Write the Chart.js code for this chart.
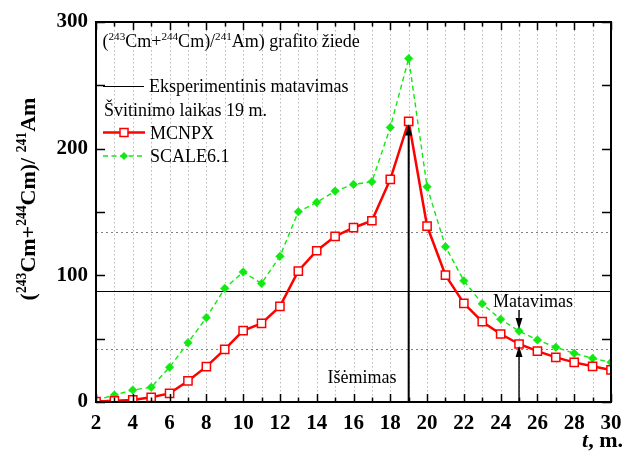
<!DOCTYPE html>
<html><head><meta charset="utf-8">
<script src="https://cdn.jsdelivr.net/npm/chart.js@4"></script>
<style>html,body{margin:0;padding:0;background:#fff}#c{display:block}</style>
</head><body>
<canvas id="c" width="625" height="453"></canvas>
<script>
// ---- data ----
const months = [2,3,4,5,6,7,8,9,10,11,12,13,14,15,16,17,18,19,20,21,22,23,24,25,26,27,28,29,30];
const mcnpx = [0.3,1,1.6,3.7,6.8,16.6,27.9,41.6,56.3,62.1,75.5,103.4,119.4,130.8,137.6,143.1,175.8,221.5,138.9,100.2,77.9,63.4,53.7,45.8,40.2,35.2,31.3,28.2,25.3];
const scale61 = [1.5,5.5,9.5,11.6,27.4,46.8,66.6,89.7,102.6,93.6,115,150.2,157.6,166.5,171.8,173.9,216.8,271.2,169.9,122.6,95.7,77.6,65.3,56,49,43.2,38.4,34.5,31.3];
const xTickLabels = [2,4,6,8,10,12,14,16,18,20,22,24,26,28,30];
const yTickLabels = [0,100,200,300];
const expValue = 88;
const expLow = 42;
const expHigh = 134;
const removalMonth = 19;
const measureMonth = 25;

const SERIF = "'Liberation Serif', 'Times New Roman', serif";
const GREEN = '#12e812';
const RED = '#ff0000';

function richWidth(ctx, parts, size, weight) {
  let w = 0;
  for (const p of parts) {
    const s = p.sup ? size * 0.62 : size;
    ctx.font = (p.it ? 'italic ' : '') + weight + ' ' + s + 'px ' + SERIF;
    w += ctx.measureText(p.t).width;
  }
  return w;
}
function drawRich(ctx, x, y, parts, size, weight) {
  ctx.textBaseline = 'alphabetic';
  ctx.textAlign = 'left';
  for (const p of parts) {
    const s = p.sup ? size * 0.62 : size;
    ctx.font = (p.it ? 'italic ' : '') + weight + ' ' + s + 'px ' + SERIF;
    ctx.fillText(p.t, x, p.sup ? y - size * 0.4 : y);
    x += ctx.measureText(p.t).width;
  }
}
function arrowHead(ctx, x, yTip, dir) { // dir -1 = pointing up, +1 = pointing down
  ctx.beginPath();
  ctx.moveTo(x, yTip);
  ctx.lineTo(x - 3.5, yTip - dir * 11);
  ctx.lineTo(x + 3.5, yTip - dir * 11);
  ctx.closePath();
  ctx.fill();
}

const decor = {
  id: 'decor',
  beforeDatasetsDraw(chart) {
    const {ctx, chartArea: a, scales: {x, y}} = chart;
    ctx.save();
    ctx.strokeStyle = '#b8b8b8';
    ctx.lineWidth = 1;
    ctx.setLineDash([1.5, 2.5]);
    for (let m = 3; m < 30; m++) {
      const px = Math.round(x.getPixelForValue(m)) + 0.5;
      ctx.beginPath(); ctx.moveTo(px, a.top); ctx.lineTo(px, a.bottom); ctx.stroke();
    }
    ctx.strokeStyle = '#808080';
    ctx.setLineDash([2, 3]);
    for (const v of [expLow, expHigh]) {
      const py = Math.round(y.getPixelForValue(v)) + 0.5;
      ctx.beginPath(); ctx.moveTo(a.left, py); ctx.lineTo(a.right, py); ctx.stroke();
    }
    ctx.setLineDash([]);
    ctx.strokeStyle = '#000';
    ctx.lineWidth = 1.2;
    const pe = Math.round(y.getPixelForValue(expValue)) + 0.5;
    ctx.beginPath(); ctx.moveTo(a.left, pe); ctx.lineTo(a.right, pe); ctx.stroke();
    ctx.restore();
  },
  afterDatasetsDraw(chart) {
    const {ctx, chartArea: a, scales: {x, y}} = chart;
    ctx.save();
    ctx.fillStyle = '#000';
    ctx.strokeStyle = '#000';
    const xr = x.getPixelForValue(removalMonth);
    const iR = months.indexOf(removalMonth);
    const tipR = y.getPixelForValue(mcnpx[iR]) + 3;
    ctx.lineWidth = 2;
    ctx.beginPath(); ctx.moveTo(xr, a.bottom); ctx.lineTo(xr, tipR + 8); ctx.stroke();
    arrowHead(ctx, xr, tipR, -1);
    const xm = x.getPixelForValue(measureMonth);
    const iM = months.indexOf(measureMonth);
    ctx.lineWidth = 1.4;
    const tipLow = y.getPixelForValue(mcnpx[iM]) + 2;
    ctx.beginPath(); ctx.moveTo(xm, a.bottom); ctx.lineTo(xm, tipLow + 8); ctx.stroke();
    arrowHead(ctx, xm, tipLow, -1);
    const tipHigh = y.getPixelForValue(scale61[iM]) - 2;
    ctx.beginPath(); ctx.moveTo(xm, 310); ctx.lineTo(xm, tipHigh - 8); ctx.stroke();
    arrowHead(ctx, xm, tipHigh, 1);
    ctx.restore();
  },
  afterDraw(chart) {
    const {ctx, chartArea: a, scales: {x, y}} = chart;
    ctx.save();
    ctx.strokeStyle = '#000';
    ctx.lineWidth = 1.5;
    for (let v = 0; v <= 300; v += 50) {
      const py = Math.round(y.getPixelForValue(v)) + 0.5;
      ctx.beginPath();
      ctx.moveTo(a.left, py); ctx.lineTo(a.left + 9, py);
      ctx.moveTo(a.right, py); ctx.lineTo(a.right - 9, py);
      ctx.stroke();
    }
    for (let m = 2; m <= 30; m++) {
      const px = Math.round(x.getPixelForValue(m)) + 0.5;
      const len = (m % 2 === 0) ? 8 : 4.5;
      ctx.beginPath();
      ctx.moveTo(px, a.bottom); ctx.lineTo(px, a.bottom - len);
      ctx.moveTo(px, a.top); ctx.lineTo(px, a.top + len);
      ctx.stroke();
    }
    ctx.lineWidth = 2;
    ctx.strokeRect(a.left, a.top, a.right - a.left, a.bottom - a.top);

    ctx.fillStyle = '#000';
    drawRich(ctx, 102.5, 47, [
      {t: '('}, {t: '243', sup: true}, {t: 'Cm+'}, {t: '244', sup: true},
      {t: 'Cm)/'}, {t: '241', sup: true}, {t: 'Am) grafito žiede'}
    ], 18, 'normal');

    ctx.lineWidth = 1.2;
    ctx.beginPath(); ctx.moveTo(103, 86.5); ctx.lineTo(144, 86.5); ctx.stroke();
    drawRich(ctx, 149, 92, [{t: 'Eksperimentinis matavimas'}], 18, 'normal');
    drawRich(ctx, 104, 115.5, [{t: 'Švitinimo laikas 19 m.'}], 18, 'normal');
    ctx.strokeStyle = RED; ctx.lineWidth = 2.5;
    ctx.beginPath(); ctx.moveTo(103, 132.5); ctx.lineTo(145, 132.5); ctx.stroke();
    ctx.fillStyle = '#fff'; ctx.lineWidth = 1.5;
    ctx.fillRect(120, 128.5, 8, 8); ctx.strokeRect(120, 128.5, 8, 8);
    ctx.fillStyle = '#000';
    drawRich(ctx, 150, 139, [{t: 'MCNPX'}], 18, 'normal');
    ctx.strokeStyle = GREEN; ctx.lineWidth = 1.4; ctx.setLineDash([5, 3.5]);
    ctx.beginPath(); ctx.moveTo(103, 156); ctx.lineTo(145, 156); ctx.stroke();
    ctx.setLineDash([]);
    ctx.fillStyle = GREEN;
    ctx.beginPath(); ctx.moveTo(124, 152); ctx.lineTo(128, 156); ctx.lineTo(124, 160); ctx.lineTo(120, 156); ctx.closePath(); ctx.fill();
    ctx.fillStyle = '#000';
    drawRich(ctx, 150, 162, [{t: 'SCALE6.1'}], 18, 'normal');

    ctx.font = '18px ' + SERIF;
    ctx.textAlign = 'center';
    ctx.textBaseline = 'alphabetic';
    ctx.fillText('Matavimas', 533, 307);
    ctx.fillText('Išėmimas', 362, 383);

    const yParts = [
      {t: '('}, {t: '243', sup: true}, {t: 'Cm+'}, {t: '244', sup: true},
      {t: 'Cm)/ '}, {t: '241', sup: true}, {t: 'Am'}
    ];
    const yw = richWidth(ctx, yParts, 22, 'bold');
    ctx.save();
    ctx.translate(35, 199);
    ctx.rotate(-Math.PI / 2);
    drawRich(ctx, -yw / 2, 0, yParts, 22, 'bold');
    ctx.restore();

    const xParts = [{t: 't', it: true}, {t: ', m.'}];
    const xw = richWidth(ctx, xParts, 22, 'bold');
    drawRich(ctx, 623 - xw, 447, xParts, 22, 'bold');
    ctx.restore();
  }
};

new Chart(document.getElementById('c'), {
  type: 'line',
  data: {
    datasets: [
      {
        label: 'MCNPX',
        data: months.map((m, i) => ({x: m, y: mcnpx[i]})),
        borderColor: RED, borderWidth: 2.5,
        pointStyle: 'rect', pointRadius: 5.8, pointBorderWidth: 1.5,
        pointBackgroundColor: '#fff', pointBorderColor: RED,
        tension: 0, order: 1
      },
      {
        label: 'SCALE6.1',
        data: months.map((m, i) => ({x: m, y: scale61[i]})),
        borderColor: GREEN, borderWidth: 1.4, borderDash: [5, 3.5],
        pointStyle: 'rectRot', pointRadius: 4.3, pointBorderWidth: 0.5,
        pointBackgroundColor: GREEN, pointBorderColor: GREEN,
        tension: 0, order: 2
      }
    ]
  },
  options: {
    responsive: false, animation: false, devicePixelRatio: 1,
    layout: {padding: {top: 22, right: 14, left: 0, bottom: 0}},
    plugins: {legend: {display: false}, tooltip: {enabled: false}},
    scales: {
      x: {
        type: 'linear', min: 2, max: 30,
        afterBuildTicks: s => { s.ticks = xTickLabels.map(v => ({value: v})); },
        afterFit: s => { s.height = 51; s.paddingLeft = 0; s.paddingRight = 0; },
        grid: {display: false, drawTicks: false}, border: {display: false},
        ticks: {color: '#000', padding: 9, maxRotation: 0, autoSkip: false,
          font: {family: SERIF, size: 21, weight: 'bold'}}
      },
      y: {
        type: 'linear', min: 0, max: 300,
        afterBuildTicks: s => { s.ticks = yTickLabels.map(v => ({value: v})); },
        afterFit: s => { s.width = 96; s.paddingTop = 0; s.paddingBottom = 0; },
        grid: {display: false, drawTicks: false}, border: {display: false},
        ticks: {color: '#000', padding: 8,
          font: {family: SERIF, size: 21, weight: 'bold'}}
      }
    }
  },
  plugins: [decor]
});
</script>
</body></html>
